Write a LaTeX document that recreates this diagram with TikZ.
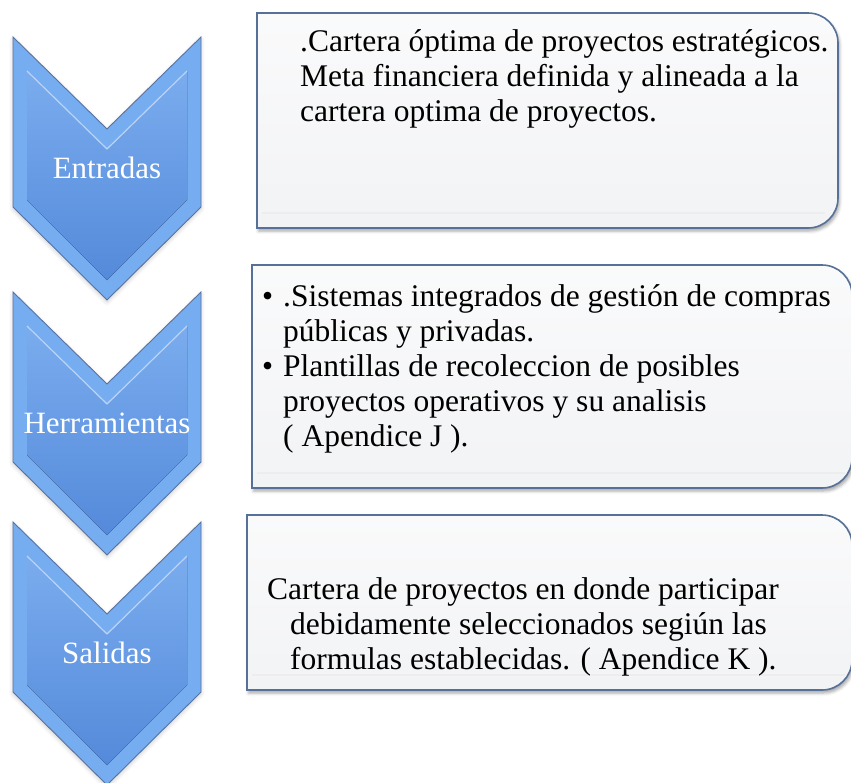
\documentclass[tikz,border=0pt]{standalone}
\usepackage{fontspec}
\setmainfont{Liberation Serif}
\usetikzlibrary{shadows.blur}
\definecolor{frameblue}{RGB}{86,112,152}
\definecolor{chevedge}{RGB}{88,114,160}
\definecolor{chevtop}{RGB}{122,172,238}
\definecolor{chevbot}{RGB}{84,138,218}
\definecolor{chevrim}{RGB}{118,172,240}
\definecolor{panelfill}{RGB}{242,243,245}

\begin{document}
\begin{tikzpicture}[
  x=1pt,y=1pt,
  txt/.style ={font=\fontsize{31.5}{34.8}\selectfont,align=left,inner sep=0pt,anchor=base west},
  lab/.style ={font=\fontsize{31}{34}\selectfont,text=white,inner sep=0pt,anchor=base},
  pan/.style ={draw=frameblue,line width=1.6pt,top color=panelfill!40!white,bottom color=panelfill,
               blur shadow={shadow xshift=1.5pt,shadow yshift=-3pt,shadow blur radius=3pt,shadow opacity=35}},
  gl/.style  ={line width=1.5pt,black!7},
  rim/.style ={fill=chevrim,draw=chevedge,line width=0.9pt,
               blur shadow={shadow xshift=0pt,shadow yshift=-2pt,shadow blur radius=4pt,shadow opacity=20}},
  core/.style={top color=chevtop,bottom color=chevbot},
  hl/.style  ={line width=1.2pt,white!50!chevtop,line join=round}
]
\useasboundingbox (0,0) rectangle (851,-782);

% ======== chevrons
\draw[rim]  (13,-37) -- (107,-129) -- (201,-37) -- (201,-207) -- (107,-300) -- (13,-207) -- cycle;
\fill[core] (27,-71) -- (107,-149) -- (187,-71) -- (187,-200) -- (107,-280) -- (27,-200) -- cycle;
\draw[hl]   (27,-71) -- (107,-149) -- (187,-71);

\draw[rim]  (13,-292) -- (107,-384) -- (201,-292) -- (201,-462) -- (107,-555) -- (13,-462) -- cycle;
\fill[core] (27,-326) -- (107,-404) -- (187,-326) -- (187,-455) -- (107,-535) -- (27,-455) -- cycle;
\draw[hl]   (27,-326) -- (107,-404) -- (187,-326);

\draw[rim]  (13,-522) -- (107,-614) -- (201,-522) -- (201,-692) -- (107,-785) -- (13,-692) -- cycle;
\fill[core] (27,-556) -- (107,-634) -- (187,-556) -- (187,-685) -- (107,-765) -- (27,-685) -- cycle;
\draw[hl]   (27,-556) -- (107,-634) -- (187,-556);

\node[lab] (en) at (107,-178) {Entradas};
\node[lab] (he) at (107,-433) {Herramientas};
\node[lab] (sa) at (107,-663) {Salidas};

% ======== panels (square left side, rounded right side)
\draw[pan] (257,-228) -- (257,-13) -- (808,-13) arc[start angle=90,end angle=0,radius=30pt]
  -- (838,-198) arc[start angle=0,end angle=-90,radius=30pt] -- cycle;
\draw[gl] (262,-213) -- (825,-213);

\draw[pan] (252,-488) -- (252,-265) -- (822,-265) arc[start angle=90,end angle=0,radius=30pt]
  -- (852,-458) arc[start angle=0,end angle=-90,radius=30pt] -- cycle;
\draw[gl] (257,-473) -- (845,-473);

\draw[pan] (247,-690) -- (247,-515) -- (822,-515) arc[start angle=90,end angle=0,radius=30pt]
  -- (852,-660) arc[start angle=0,end angle=-90,radius=30pt] -- cycle;
\draw[gl] (252,-675) -- (845,-675);

% ======== panel texts (base = baseline of the last line)
\node[txt] (c1) at (300,-121)
  {.Cartera óptima de proyectos estratégicos.\\
   Meta financiera definida y alineada a la\\
   cartera optima de proyectos.};
\node[txt] (c2) at (262,-446)
  {\makebox[21pt][l]{\textbullet}.Sistemas integrados de gestión de compras\\
   \hspace*{21pt}públicas y privadas.\\
   \makebox[21pt][l]{\textbullet}Plantillas de recoleccion de posibles\\
   \hspace*{21pt}proyectos operativos y su analisis\\
   \hspace*{21pt}( Apendice J ).};
\node[txt] (c3) at (267,-669)
  {Cartera de proyectos en donde participar\\
   \hspace*{23pt}debidamente seleccionados segiún las\\
   \hspace*{23pt}formulas establecidas. ( Apendice K ).};
\end{tikzpicture}
\end{document}
